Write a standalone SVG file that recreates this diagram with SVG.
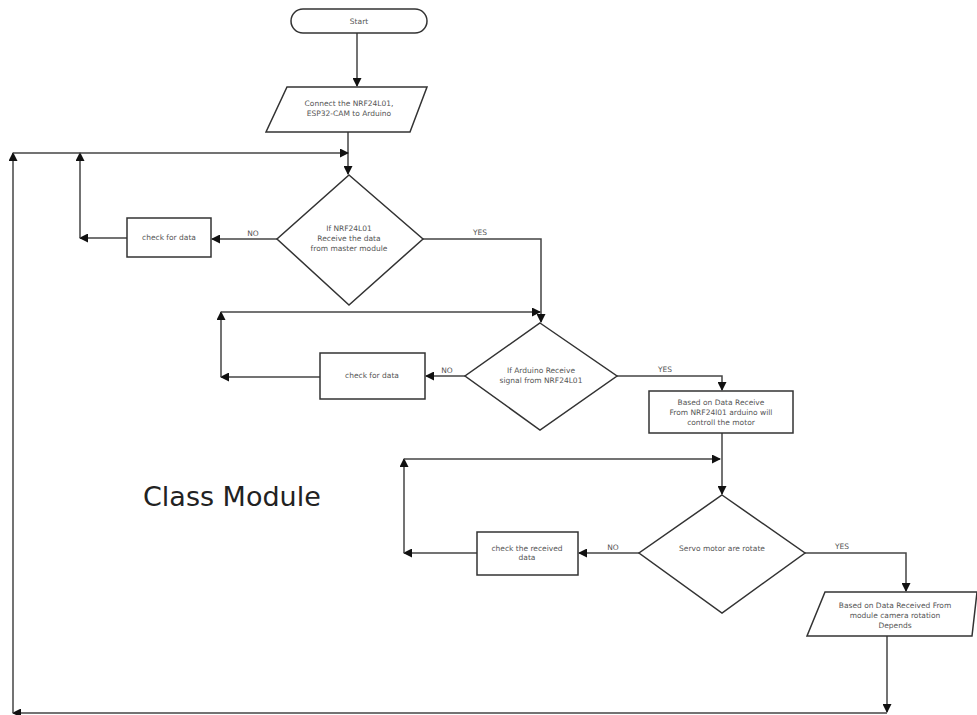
<svg xmlns="http://www.w3.org/2000/svg" width="977" height="715" viewBox="0 0 977 715">
<defs>
<marker id="ah" markerUnits="userSpaceOnUse" markerWidth="9" markerHeight="9" refX="8" refY="4.5" orient="auto">
<path d="M0,0 L9,4.5 L0,9 Z" fill="#111"/>
</marker>
</defs>
<style>
.shape{fill:#fff;stroke:#333;stroke-width:1.5}
.conn{fill:none;stroke:#444;stroke-width:1.5}
.t{font-family:"DejaVu Sans",sans-serif;font-size:7.5px;fill:#555;text-anchor:middle}
.lbl{font-family:"DejaVu Sans",sans-serif;font-size:7.5px;fill:#555;text-anchor:middle}
.big{font-family:"DejaVu Sans",sans-serif;font-size:27px;fill:#222}
</style>
<rect width="977" height="715" fill="#fff"/>
<g id="connectors">
<path class="conn" d="M357,33 V86" marker-end="url(#ah)"/>
<path class="conn" d="M348,132 V174" marker-end="url(#ah)"/>
<path class="conn" d="M277,239 H212" marker-end="url(#ah)"/>
<path class="conn" d="M127,238 H80" marker-end="url(#ah)"/>
<path class="conn" d="M80,238 V153" marker-end="url(#ah)"/>
<path class="conn" d="M423,239 H541 V322" marker-end="url(#ah)"/>
<path class="conn" d="M465,376 H426" marker-end="url(#ah)"/>
<path class="conn" d="M320,377 H221" marker-end="url(#ah)"/>
<path class="conn" d="M221,377 V312" marker-end="url(#ah)"/>
<path class="conn" d="M221,312 H540" marker-end="url(#ah)"/>
<path class="conn" d="M617,376 H722 V390" marker-end="url(#ah)"/>
<path class="conn" d="M722,433 V494" marker-end="url(#ah)"/>
<path class="conn" d="M639,553 H579" marker-end="url(#ah)"/>
<path class="conn" d="M477,553 H404" marker-end="url(#ah)"/>
<path class="conn" d="M404,553 V459" marker-end="url(#ah)"/>
<path class="conn" d="M404,459 H720" marker-end="url(#ah)"/>
<path class="conn" d="M805,553 H906 V591" marker-end="url(#ah)"/>
<path class="conn" d="M887,636 V712" marker-end="url(#ah)"/>
<path class="conn" d="M887,713 H13" marker-end="url(#ah)"/>
<path class="conn" d="M13,713 V153" marker-end="url(#ah)"/>
<path class="conn" d="M13,153 H348" marker-end="url(#ah)"/>
<text class="lbl" x="253" y="236">NO</text>
<text class="lbl" x="480" y="235">YES</text>
<text class="lbl" x="447" y="373">NO</text>
<text class="lbl" x="665" y="372">YES</text>
<text class="lbl" x="613" y="550">NO</text>
<text class="lbl" x="842" y="549">YES</text>
</g>
<g id="start">
<rect class="shape" x="291" y="9" width="136" height="24" rx="12"/>
<text class="t" x="359" y="24">Start</text>
</g>
<g id="connect">
<polygon class="shape" points="287,87 427,87 410,132 266,132"/>
<text class="t" x="349" y="106">Connect the NRF24L01,</text>
<text class="t" x="349" y="116">ESP32-CAM to Arduino</text>
</g>
<g id="d1">
<polygon class="shape" points="349,175 423,239 349,305 277,239"/>
<text class="t" x="349" y="231">If NRF24L01</text>
<text class="t" x="349" y="241">Receive the data</text>
<text class="t" x="349" y="251">from master module</text>
</g>
<g id="check1">
<rect class="shape" x="127" y="218" width="84" height="39"/>
<text class="t" x="169" y="240">check for data</text>
</g>
<g id="d2">
<polygon class="shape" points="540,323 617,376 540,430 465,376"/>
<text class="t" x="541" y="373">If Arduino Receive</text>
<text class="t" x="541" y="383">signal from NRF24L01</text>
</g>
<g id="check2">
<rect class="shape" x="320" y="353" width="105" height="46"/>
<text class="t" x="372" y="378">check for data</text>
</g>
<g id="motor">
<rect class="shape" x="649" y="391" width="144" height="42"/>
<text class="t" x="721" y="405">Based on Data Receive</text>
<text class="t" x="721" y="415">From NRF24l01 arduino will</text>
<text class="t" x="721" y="425">controll the motor</text>
</g>
<g id="d3">
<polygon class="shape" points="722,495 805,553 722,613 639,553"/>
<text class="t" x="722" y="551">Servo motor are rotate</text>
</g>
<g id="check3">
<rect class="shape" x="477" y="532" width="101" height="43"/>
<text class="t" x="527" y="551">check the received</text>
<text class="t" x="527" y="560">data</text>
</g>
<g id="camera">
<polygon class="shape" points="825,592 977,592 972,636 807,636"/>
<text class="t" x="895" y="608">Based on Data Received From</text>
<text class="t" x="895" y="618">module camera rotation</text>
<text class="t" x="895" y="628">Depends</text>
</g>
<text class="big" x="143" y="506">Class Module</text>
</svg>
